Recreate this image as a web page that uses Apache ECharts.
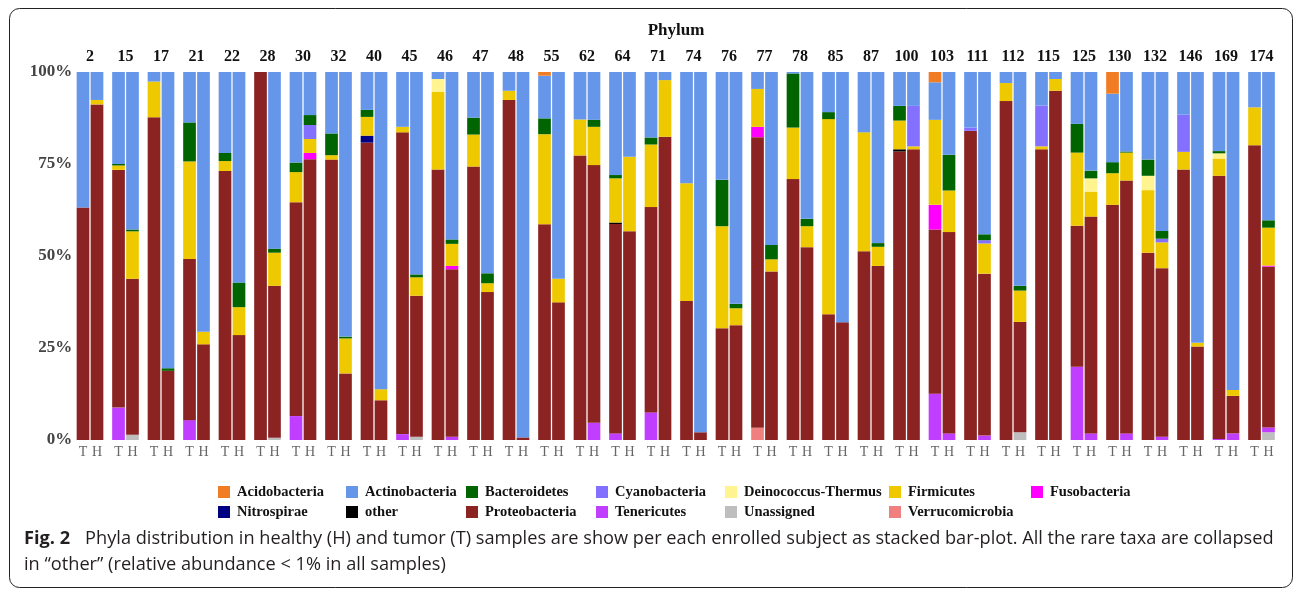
<!DOCTYPE html>
<html>
<head>
<meta charset="utf-8">
<title>Phyla distribution</title>
<script src="https://cdn.jsdelivr.net/npm/echarts@6.0.0/dist/echarts.min.js"></script>
<style>
  html, body { margin: 0; padding: 0; background: #ffffff; }
  #chart { width: 1295px; height: 590px; }
</style>
</head>
<body>
<div id="chart"></div>
<script>
// Enrolled subjects, each with a tumor (T) and a healthy (H) sample
const subjects = ['2', '15', '17', '21', '22', '28', '30', '32', '40', '45', '46', '47', '48', '55', '62', '64', '71',
  '74', '76', '77', '78', '85', '87', '100', '103', '111', '112', '115', '125', '130', '132', '146', '169', '174'];
const sampleLabels = ['T', 'H'];
const percentTicks = [0, 25, 50, 75, 100];

// Relative abundance (%) per subject, tumor samples
const verrucomicrobiaT = [0, 0, 0, 0, 0, 0, 0, 0, 0, 0, 0, 0, 0, 0, 0, 0, 0, 0, 0, 3.3, 0, 0, 0, 0, 0, 0, 0, 0, 0, 0, 0, 0, 0, 0];
const unassignedT      = [0, 0, 0, 0, 0, 0, 0, 0, 0, 0, 0, 0, 0, 0, 0, 0, 0, 0, 0, 0, 0, 0, 0, 0, 0, 0, 0, 0, 0, 0, 0, 0, 0, 0];
const tenericutesT     = [0, 8.8, 0, 5.4, 0, 0, 6.5, 0, 0, 1.6, 0, 0, 0, 0, 0, 1.8, 7.5, 0, 0, 0, 0, 0, 0, 0, 12.6, 0, 0, 0, 19.9, 0, 0, 0, 0.3, 0];
const proteobacteriaT  = [63.2, 64.6, 87.7, 43.8, 73.1, 100, 58.1, 76.2, 80.8, 82.0, 73.5, 74.3, 92.4, 58.6, 77.3, 56.9, 55.8,
  37.8, 30.4, 79.0, 70.9, 34.2, 51.3, 78.4, 44.6, 84.0, 92.1, 79.0, 38.3, 63.9, 50.9, 73.5, 71.5, 80.1];
const otherT           = [0, 0, 0, 0, 0, 0, 0, 0, 0, 0, 0, 0, 0, 0, 0, 0.4, 0, 0, 0, 0, 0, 0, 0, 0.6, 0, 0, 0, 0, 0, 0, 0, 0, 0, 0];
const nitrospiraeT     = [0, 0, 0, 0, 0, 0, 0, 0, 1.9, 0, 0, 0, 0, 0, 0, 0, 0, 0, 0, 0, 0, 0, 0, 0, 0, 0, 0, 0, 0, 0, 0, 0, 0, 0];
const fusobacteriaT    = [0, 0, 0, 0, 0, 0, 0, 0, 0, 0, 0, 0, 0, 0, 0, 0, 0, 0, 0, 2.8, 0, 0, 0, 0, 6.7, 0, 0, 0, 0, 0, 0, 0, 0, 0];
const firmicutesT      = [0, 1.2, 9.7, 26.5, 2.7, 0, 8.2, 1.2, 5.1, 1.5, 21.1, 8.7, 2.5, 24.5, 9.8, 12.0, 17.0,
  32.0, 27.7, 10.3, 14.0, 53.0, 32.3, 7.8, 23.1, 0, 4.9, 0.8, 19.9, 8.6, 17.0, 4.8, 4.7, 10.3];
const deinococcusT     = [0, 0, 0, 0, 0, 0, 0, 0, 0, 0, 3.5, 0, 0, 0, 0, 0, 0, 0, 0, 0, 0, 0, 0, 0, 0, 0, 0, 0, 0, 0, 3.9, 0, 1.4, 0];
const cyanobacteriaT   = [0, 0, 0, 0, 0, 0, 0, 0, 0, 0, 0, 0, 0, 0, 0, 0, 0, 0, 0, 0, 0, 0, 0, 0, 0, 0.9, 0, 11.1, 0, 0, 0, 10.1, 0, 0];
const bacteroidetesT   = [0, 0.4, 0, 10.6, 2.2, 0, 2.6, 5.9, 1.9, 0, 0, 4.6, 0, 4.3, 0, 0.9, 1.9,
  0, 12.6, 0, 14.7, 1.9, 0, 4.0, 0, 0, 0, 0, 7.8, 3.0, 4.4, 0, 0.6, 0];
const actinobacteriaT  = [36.8, 25.0, 2.6, 13.7, 22.0, 0, 24.6, 16.7, 10.3, 14.9, 1.9, 12.4, 5.1, 11.6, 12.9, 28.0, 17.8,
  30.2, 29.3, 4.6, 0.4, 10.9, 16.4, 9.2, 10.2, 15.1, 3.0, 9.1, 14.1, 18.6, 23.8, 11.6, 21.5, 9.6];
const acidobacteriaT   = [0, 0, 0, 0, 0, 0, 0, 0, 0, 0, 0, 0, 0, 1.0, 0, 0, 0, 0, 0, 0, 0, 0, 0, 0, 2.8, 0, 0, 0, 0, 5.9, 0, 0, 0, 0];

// Relative abundance (%) per subject, healthy samples
const verrucomicrobiaH = [0, 0, 0, 0, 0, 0, 0, 0, 0, 0, 0, 0, 0, 0, 0, 0, 0, 0, 0, 0, 0, 0, 0, 0, 0, 0, 0, 0, 0, 0, 0, 0, 0, 0];
const unassignedH      = [0, 1.4, 0, 0, 0, 0.6, 0, 0, 0, 0.9, 0, 0, 0, 0, 0, 0, 0, 0, 0, 0, 0, 0, 0, 0, 0, 0, 2.1, 0, 0, 0, 0, 0, 0, 2.1];
const tenericutesH     = [0, 0, 0, 0, 0, 0, 0, 0, 0, 0, 0.9, 0, 0, 0, 4.7, 0, 0, 0, 0, 0, 0, 0, 0, 0, 1.8, 1.2, 0, 0, 1.8, 1.8, 0.9, 0, 1.8, 1.3];
const proteobacteriaH  = [91.2, 42.4, 18.8, 26.0, 28.5, 41.3, 76.3, 18.1, 10.8, 38.3, 45.5, 40.2, 0.7, 37.4, 70.0, 56.7, 82.4,
  2.1, 31.2, 45.8, 52.4, 32.0, 47.3, 79.0, 54.7, 44.0, 30.0, 94.9, 58.9, 68.7, 45.8, 25.4, 10.2, 43.7];
const otherH           = [0, 0, 0, 0, 0, 0, 0, 0, 0, 0, 0, 0, 0, 0, 0, 0, 0, 0, 0, 0, 0, 0, 0, 0, 0, 0, 0, 0, 0, 0, 0, 0, 0, 0];
const nitrospiraeH     = [0, 0, 0, 0, 0, 0, 0, 0, 0, 0, 0, 0, 0, 0, 0, 0, 0, 0, 0, 0, 0, 0, 0, 0, 0, 0, 0, 0, 0, 0, 0, 0, 0, 0];
const fusobacteriaH    = [0, 0, 0, 0, 0, 0, 1.7, 0, 0, 0, 0.9, 0, 0, 0, 0, 0, 0, 0, 0, 0, 0, 0, 0, 0, 0, 0, 0, 0, 0, 0, 0, 0, 0, 0.3];
const firmicutesH      = [1.2, 12.9, 0, 3.4, 7.6, 9.0, 3.8, 9.5, 3.0, 5.0, 6.0, 2.4, 0, 6.4, 10.4, 20.3, 15.4,
  0, 4.6, 3.3, 5.7, 0, 5.2, 0.8, 11.3, 8.2, 8.5, 3.2, 6.8, 7.6, 7.0, 1.0, 1.6, 10.3];
const deinococcusH     = [0, 0, 0, 0, 0, 0, 0, 0, 0, 0, 0, 0, 0, 0, 0, 0, 0, 0, 0, 0, 0, 0, 0, 0, 0, 0, 0, 0, 3.6, 0, 0, 0, 0, 0];
const cyanobacteriaH   = [0, 0, 0, 0, 0, 0, 3.8, 0, 0, 0, 0, 0, 0, 0, 0, 0, 0, 0, 0, 0, 0, 0, 0, 11.0, 0, 0.9, 0, 0, 0, 0, 1.0, 0, 0, 0];
const bacteroidetesH   = [0, 0.5, 0.7, 0, 6.7, 1.1, 2.7, 0.5, 0, 0.8, 1.2, 2.7, 0, 0, 1.9, 0, 0,
  0, 1.2, 3.9, 2.0, 0, 1.0, 0, 9.7, 1.6, 1.3, 0, 2.1, 0.3, 2.1, 0, 0, 2.0];
const actinobacteriaH  = [7.6, 42.8, 80.5, 70.6, 57.2, 48.0, 11.7, 71.9, 86.2, 55.0, 45.5, 54.7, 99.3, 56.2, 13.0, 23.0, 2.2,
  97.9, 63.0, 47.0, 39.9, 68.0, 46.5, 9.2, 22.5, 44.1, 58.1, 1.9, 26.8, 21.6, 43.2, 73.6, 86.4, 40.3];
const acidobacteriaH   = [0, 0, 0, 0, 0, 0, 0, 0, 0, 0, 0, 0, 0, 0, 0, 0, 0, 0, 0, 0, 0, 0, 0, 0, 0, 0, 0, 0, 0, 0, 0, 0, 0, 0];

// Stacking order, from the bottom of each bar upwards
const phyla = [
  ['Verrucomicrobia', verrucomicrobiaT, verrucomicrobiaH],
  ['Unassigned', unassignedT, unassignedH],
  ['Tenericutes', tenericutesT, tenericutesH],
  ['Proteobacteria', proteobacteriaT, proteobacteriaH],
  ['other', otherT, otherH],
  ['Nitrospirae', nitrospiraeT, nitrospiraeH],
  ['Fusobacteria', fusobacteriaT, fusobacteriaH],
  ['Firmicutes', firmicutesT, firmicutesH],
  ['Deinococcus-Thermus', deinococcusT, deinococcusH],
  ['Cyanobacteria', cyanobacteriaT, cyanobacteriaH],
  ['Bacteroidetes', bacteroidetesT, bacteroidetesH],
  ['Actinobacteria', actinobacteriaT, actinobacteriaH],
  ['Acidobacteria', acidobacteriaT, acidobacteriaH]
];

const phylumColors = {
  'Acidobacteria': '#F07C24',
  'Actinobacteria': '#6596EA',
  'Bacteroidetes': '#006400',
  'Cyanobacteria': '#8470FF',
  'Deinococcus-Thermus': '#FFF48F',
  'Firmicutes': '#EEC900',
  'Fusobacteria': '#FF00FF',
  'Nitrospirae': '#000080',
  'other': '#000000',
  'Proteobacteria': '#8B2323',
  'Tenericutes': '#BF3EFF',
  'Unassigned': '#BEBEBE',
  'Verrucomicrobia': '#F08080'
};

// Legend columns (two rows, alphabetical order read across)
const legendColumns = [
  { left: 218, names: ['Acidobacteria', 'Nitrospirae'] },
  { left: 346, names: ['Actinobacteria', 'other'] },
  { left: 466, names: ['Bacteroidetes', 'Proteobacteria'] },
  { left: 596, names: ['Cyanobacteria', 'Tenericutes'] },
  { left: 725, names: ['Deinococcus-Thermus', 'Unassigned'] },
  { left: 889, names: ['Firmicutes', 'Verrucomicrobia'] },
  { left: 1031, names: ['Fusobacteria'] }
];

const SERIF = "'Liberation Serif', 'Times New Roman', serif";
const CAPTION_FONT = "'Open Sans', 'Liberation Sans', Arial, sans-serif";

const series = [];
phyla.forEach(([name, tumor, healthy]) => {
  [['T', tumor], ['H', healthy]].forEach(([stack, values]) => {
    series.push({
      name: name,
      type: 'bar',
      stack: stack,
      data: values,
      barWidth: 12.7,
      barGap: '10%',
      itemStyle: { color: phylumColors[name] },
      emphasis: { disabled: true }
    });
  });
});

const chart = echarts.init(document.getElementById('chart'), null, { renderer: 'canvas' });

chart.setOption({
  animation: false,
  backgroundColor: '#ffffff',
  title: {
    text: 'Phylum',
    left: 676,
    top: 22,
    padding: 0,
    textAlign: 'center',
    textStyle: { fontFamily: SERIF, fontWeight: 'bold', fontSize: 17, color: '#111111' }
  },
  grid: { left: 72.25, right: 15.75, top: 72, bottom: 150, containLabel: false },
  legend: legendColumns.map(col => ({
    orient: 'vertical',
    left: col.left,
    top: 484,
    padding: 0,
    itemWidth: 12,
    itemHeight: 12,
    itemGap: 4,
    icon: 'rect',
    selectedMode: false,
    data: col.names,
    textStyle: { fontFamily: SERIF, fontWeight: 'bold', fontSize: 14.5, color: '#111111', lineHeight: 16, padding: [0, 0, 0, 2] }
  })),
  xAxis: [
    {
      type: 'category',
      data: subjects,
      position: 'bottom',
      axisLine: { show: false },
      axisTick: { show: false },
      axisLabel: {
        interval: 0,
        margin: 5,
        formatter: () => '{t|' + sampleLabels[0] + '}{h|' + sampleLabels[1] + '}',
        rich: {
          t: { width: 14, align: 'center', fontFamily: SERIF, fontSize: 14, color: '#666666' },
          h: { width: 14, align: 'center', fontFamily: SERIF, fontSize: 14, color: '#666666' }
        }
      }
    },
    {
      type: 'category',
      data: subjects,
      position: 'top',
      axisLine: { show: false },
      axisTick: { show: false },
      axisLabel: { interval: 0, margin: 7, fontFamily: SERIF, fontWeight: 'bold', fontSize: 16, color: '#111111' }
    }
  ],
  yAxis: {
    type: 'value',
    min: percentTicks[0],
    max: percentTicks[percentTicks.length - 1],
    interval: percentTicks[1] - percentTicks[0],
    axisLine: { show: false },
    axisTick: { show: false },
    splitLine: { show: false },
    axisLabel: { margin: 0, formatter: '{value}%', fontFamily: SERIF, fontWeight: 'bold', fontSize: 17, color: '#444444' }
  },
  series: series,
  graphic: [
    {
      type: 'rect',
      silent: true,
      shape: { x: 9.5, y: 8.5, width: 1283, height: 579, r: 10 },
      style: { fill: 'none', stroke: '#222222', lineWidth: 1 }
    },
    {
      type: 'text',
      silent: true,
      left: 24,
      top: 530,
      style: {
        text: '{b|Fig. 2}Phyla distribution in healthy (H) and tumor (T) samples are show per each enrolled subject as stacked bar-plot. All the rare taxa are collapsed',
        fontFamily: CAPTION_FONT,
        fontSize: 18.2,
        fill: '#231F20',
        rich: { b: { fontWeight: 'bold', fontSize: 18.2, fill: '#231F20', fontFamily: CAPTION_FONT, padding: [0, 15, 0, 0] } }
      }
    },
    {
      type: 'text',
      silent: true,
      left: 24,
      top: 556,
      style: {
        text: 'in \u201Cother\u201D (relative abundance < 1% in all samples)',
        fontFamily: CAPTION_FONT,
        fontSize: 18.2,
        fill: '#231F20'
      }
    }
  ]
});
</script>
</body>
</html>
